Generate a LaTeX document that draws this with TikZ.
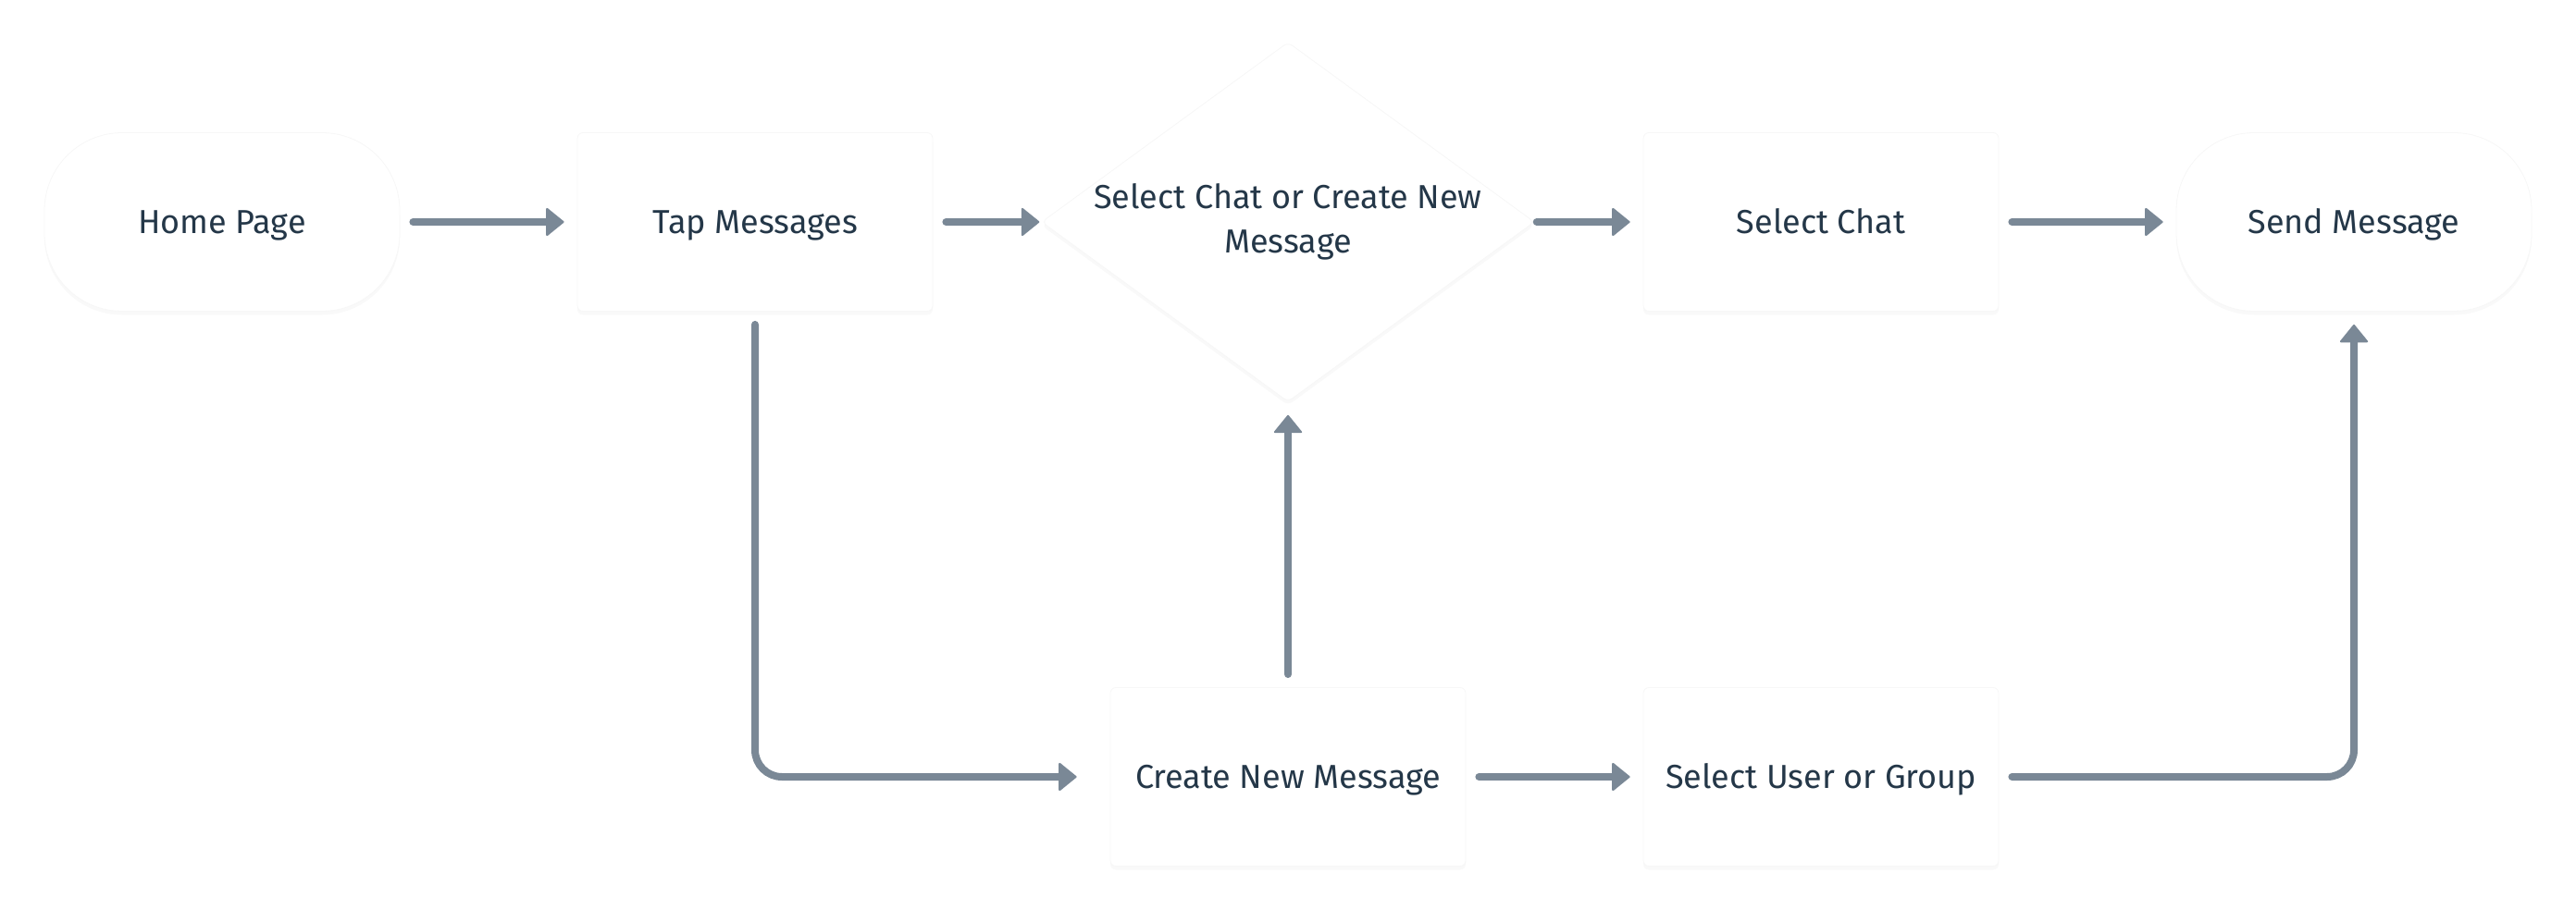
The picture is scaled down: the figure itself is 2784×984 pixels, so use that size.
\documentclass[tikz,border=0pt]{standalone}
\usepackage{fontspec}
\setmainfont{Fira Sans}
\usetikzlibrary{shapes.geometric,arrows.meta,shadows}
\definecolor{ink}{HTML}{243748}
\definecolor{wire}{HTML}{7A8896}
\tikzset{
  every node/.style={font=\fontsize{18}{24}\selectfont, text=ink},
  box/.style={rectangle, rounded corners=3pt, fill=white, draw=black!3,
    minimum width=192pt, minimum height=96.5pt, text height=12.4pt, text depth=0pt,
    drop shadow={opacity=0.05, shadow xshift=0pt, shadow yshift=-2pt}},
  pill/.style={box, rounded corners=42pt},
  choice/.style={diamond, aspect=1.37, rounded corners=3pt, fill=white, draw=black!3,
    inner sep=0pt, minimum width=263pt, minimum height=191pt, align=center,
    drop shadow={opacity=0.05, shadow xshift=0pt, shadow yshift=-2pt}},
  flow/.style={draw=wire, line width=4pt, line cap=round, rounded corners=14.5pt,
    -{Triangle[width=16pt, length=10pt, line width=1pt, round]},
    shorten <=7pt, shorten >=7pt}
}

\begin{document}
\begin{tikzpicture}[x=0.5pt,y=-0.5pt]
\useasboundingbox (0,0) rectangle (2784,984);
  \node[pill] (home) at (240,240) {Home Page};
  \node[box] (tap) at (816,240) {Tap Messages};
  \node[choice] (pick) at (1392,240) {Select Chat or Create New\\Message};
  \node[box] (chat) at (1968,240) {Select Chat};
  \node[pill] (send) at (2544,240) {Send Message};
    \begin{scope}[shift={(0,600)}]
  \node[box] (new) at (1392,240) {Create New Message};
  \node[box] (user) at (1968,240) {Select User or Group};
\end{scope}
\draw[flow] (home) -- (tap);
\draw[flow, shorten >=1pt] (tap) -- (pick);
\draw[flow, shorten <=1pt] (pick) -- (chat);
\draw[flow] (chat) -- (send);
\draw[flow, shorten >=18pt] (tap) |- (new);
  \draw[flow] (new) -- (pick);
\draw[flow] (new) -- (user);
\draw[flow] (user) -| (send);

\end{tikzpicture}
\end{document}
